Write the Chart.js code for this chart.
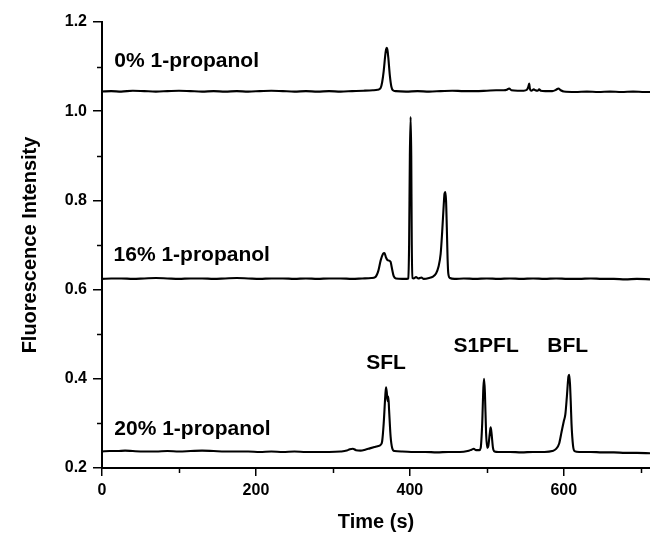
<!DOCTYPE html>
<html><head><meta charset="utf-8">
<script src="https://cdn.jsdelivr.net/npm/chart.js@4/dist/chart.umd.min.js"></script>
<style>html,body{margin:0;padding:0;background:#fff}</style>
</head><body>
<canvas id="c" width="650" height="534"></canvas>
<script>
// ---- data (time in s, fluorescence intensity) ----
const time0 = [0,12,25,40,55,70,85,100,115,130,145,160,175,190,205,220,235,250,265,280,295,310,325,340,352,358,362,364,366,368,369,370,371,372,374,376,378,382,395,410,425,440,455,470,485,500,512,522,526,529,532,540,548,552,554,555,556,558,561,563,566,568,570,576,585,590,593,596,600,615,630,645,660,675,690,705,712];
const int0  = [1.044,1.045,1.044,1.046,1.045,1.044,1.045,1.046,1.045,1.044,1.045,1.044,1.045,1.044,1.045,1.046,1.045,1.044,1.045,1.044,1.045,1.044,1.045,1.046,1.047,1.048,1.052,1.065,1.09,1.125,1.138,1.142,1.136,1.12,1.08,1.055,1.047,1.045,1.044,1.045,1.044,1.045,1.046,1.045,1.045,1.046,1.047,1.047,1.048,1.051,1.047,1.046,1.046,1.048,1.055,1.062,1.05,1.046,1.049,1.047,1.046,1.049,1.046,1.045,1.045,1.048,1.051,1.047,1.044,1.043,1.044,1.043,1.044,1.043,1.044,1.043,1.043];

const time16 = [0,12,25,40,55,70,85,100,115,130,145,160,175,190,205,220,235,250,265,280,295,310,325,338,350,355,359,362,365,367,369,371,373,375,377,379,382,390,396,398,399,400,401,401.8,402.5,403.5,405,408,411,415,418,425,430,434,437,440,442,444,445,446,447,448,449,450,452,458,470,485,500,515,530,545,560,575,590,605,620,635,650,665,680,695,712];
const int16  = [0.624,0.625,0.625,0.624,0.625,0.626,0.625,0.624,0.625,0.625,0.624,0.625,0.626,0.625,0.624,0.625,0.625,0.624,0.625,0.624,0.625,0.625,0.624,0.625,0.626,0.628,0.642,0.665,0.68,0.682,0.672,0.666,0.665,0.662,0.645,0.63,0.625,0.624,0.624,0.625,0.7,0.9,0.987,0.9,0.7,0.626,0.625,0.628,0.625,0.627,0.624,0.626,0.629,0.636,0.65,0.68,0.73,0.79,0.815,0.819,0.8,0.74,0.67,0.635,0.626,0.624,0.625,0.624,0.625,0.624,0.625,0.624,0.625,0.624,0.625,0.624,0.624,0.625,0.624,0.624,0.623,0.624,0.623];

const time20 = [0,10,20,30,40,55,70,85,100,115,130,145,160,175,190,205,220,235,250,265,280,295,310,318,322,326,330,336,342,348,354,358,362,364,366,368,369,370,371,372,373,375,377,380,390,405,420,435,450,465,475,480,483,486,490,492,494,495.5,496.5,497.5,499,500.5,502,504,505,506,508,510,515,530,545,560,575,585,590,594,597,600,602,604,606,607,608,609,610,612,614,620,635,650,665,680,695,712];
const int20  = [0.237,0.238,0.238,0.239,0.238,0.237,0.237,0.238,0.237,0.238,0.239,0.238,0.237,0.237,0.237,0.236,0.237,0.236,0.237,0.236,0.236,0.236,0.237,0.239,0.242,0.243,0.24,0.239,0.241,0.244,0.247,0.249,0.252,0.26,0.3,0.36,0.381,0.37,0.35,0.36,0.33,0.27,0.245,0.238,0.237,0.236,0.236,0.235,0.236,0.236,0.238,0.241,0.243,0.24,0.24,0.245,0.3,0.38,0.4,0.37,0.28,0.245,0.25,0.28,0.291,0.28,0.245,0.237,0.236,0.236,0.235,0.236,0.236,0.238,0.243,0.255,0.28,0.305,0.32,0.36,0.405,0.409,0.39,0.35,0.3,0.25,0.238,0.236,0.236,0.235,0.235,0.234,0.234,0.233];

const seriesNames = ['0% 1-propanol','16% 1-propanol','20% 1-propanol'];
const peakNames = ['SFL','S1PFL','BFL'];
const xMinorTicks = [100,300,500,700];
const yMinorTicks = [0.3,0.5,0.7,0.9,1.1];

// text anchors in data units (time, intensity)
const textAnchors = [
  {text: seriesNames[0], x: 16, y: 1.113, align: 'left'},
  {text: seriesNames[1], x: 15, y: 0.677, align: 'left'},
  {text: seriesNames[2], x: 16, y: 0.286, align: 'left'},
  {text: peakNames[0], x: 369, y: 0.436, align: 'center'},
  {text: peakNames[1], x: 499, y: 0.474, align: 'center'},
  {text: peakNames[2], x: 605, y: 0.474, align: 'center'}
];

const FONT = '"Liberation Sans", Arial, sans-serif';
const toPts = (xs, ys) => xs.map((x, i) => ({x: x, y: ys[i]}));

const extras = {
  id: 'extras',
  afterDraw(chart) {
    const ctx = chart.ctx, xs = chart.scales.x, ys = chart.scales.y, a = chart.chartArea;
    ctx.save();
    ctx.strokeStyle = '#000'; ctx.lineWidth = 1.5;
    yMinorTicks.forEach(v => { const p = Math.round(ys.getPixelForValue(v)) + 0.5; ctx.beginPath(); ctx.moveTo(a.left - 5, p); ctx.lineTo(a.left, p); ctx.stroke(); });
    xMinorTicks.forEach(v => { const p = Math.round(xs.getPixelForValue(v)) + 0.5; ctx.beginPath(); ctx.moveTo(p, a.bottom); ctx.lineTo(p, a.bottom + 5); ctx.stroke(); });
    ctx.fillStyle = '#000';
    ctx.font = 'bold 21px ' + FONT;
    ctx.textBaseline = 'middle';
    textAnchors.forEach(t => { ctx.textAlign = t.align; ctx.fillText(t.text, xs.getPixelForValue(t.x), ys.getPixelForValue(t.y)); });
    ctx.restore();
  }
};

const ds = (pts) => ({data: pts, borderColor: '#000', borderWidth: 2.1, pointRadius: 0, showLine: true, fill: false, cubicInterpolationMode: 'monotone'});

new Chart(document.getElementById('c'), {
  type: 'scatter',
  data: { datasets: [ds(toPts(time0, int0)), ds(toPts(time16, int16)), ds(toPts(time20, int20))] },
  options: {
    responsive: false, animation: false, devicePixelRatio: 1,
    layout: { padding: { top: 22, right: 0, left: 0, bottom: 0 } },
    plugins: { legend: { display: false }, tooltip: { enabled: false } },
    scales: {
      x: {
        type: 'linear', min: 0, max: 712,
        ticks: { stepSize: 200, includeBounds: false, color: '#000', font: { family: FONT, size: 16, weight: 'bold' }, padding: 5, maxRotation: 0 },
        grid: { drawOnChartArea: false, drawTicks: true, tickLength: 8, color: '#000', lineWidth: 1.5 },
        border: { display: true, color: '#000', width: 2 },
        title: { display: true, text: 'Time (s)', color: '#000', font: { family: FONT, size: 20, weight: 'bold' }, padding: { top: 0, bottom: 0 } },
        afterFit: s => { s.height = 66; }
      },
      y: {
        type: 'linear', min: 0.2, max: 1.2,
        ticks: { stepSize: 0.2, includeBounds: false, color: '#000', font: { family: FONT, size: 16, weight: 'bold' }, padding: 6, callback: v => v.toFixed(1) },
        grid: { drawOnChartArea: false, drawTicks: true, tickLength: 9, color: '#000', lineWidth: 1.5 },
        border: { display: true, color: '#000', width: 2 },
        title: { display: true, text: 'Fluorescence Intensity', color: '#000', font: { family: FONT, size: 20, weight: 'bold' }, padding: { top: 18, bottom: 0 } },
        afterFit: s => { s.width = 102; }
      }
    }
  },
  plugins: [extras]
});
</script>
</body></html>
